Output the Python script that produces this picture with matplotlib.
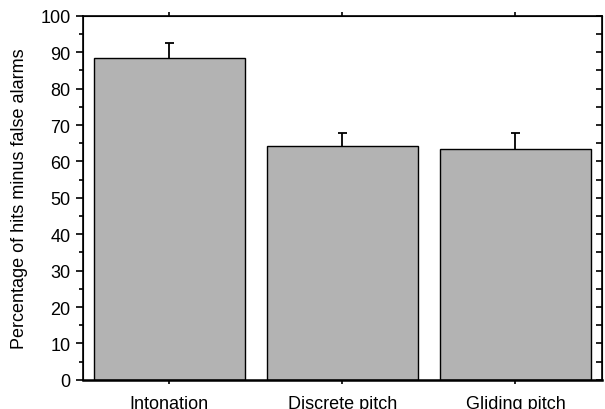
import matplotlib
matplotlib.use("Agg")
import matplotlib.pyplot as plt
import numpy as np
from matplotlib.ticker import MultipleLocator

# data
conditions = ["Intonation", "Discrete pitch", "Gliding pitch"]
scores = [88.4, 64.2, 63.4]
errors = [4.1, 3.7, 4.5]

BAR = "#b3b3b3"

plt.rcParams["font.family"] = ["Liberation Sans", "DejaVu Sans"]

fig = plt.figure(figsize=(6.05, 4.10), dpi=100)
ax = fig.add_axes([0.137, 0.071, 0.858, 0.888])

x = np.arange(len(conditions))
top = np.array(scores) + np.array(errors)
ax.bar(x, scores, width=0.87, color=BAR, edgecolor="black", linewidth=1.0, zorder=2)
# upper error bars only (stem + cap)
ax.vlines(x, scores, top, color="black", linewidth=1.3, zorder=3)
ax.hlines(top, x - 0.025, x + 0.025, color="black", linewidth=1.3, zorder=3)

ax.set_xlim(-0.5, 2.5)
ax.set_ylim(0, 100)
ax.set_xticks(x)
ax.set_xticklabels(conditions, fontsize=13)
ax.yaxis.set_major_locator(MultipleLocator(10))
ax.yaxis.set_minor_locator(MultipleLocator(5))
ax.tick_params(axis="y", which="major", direction="out", length=5, width=1.2,
               labelsize=13, pad=4)
ax.tick_params(axis="y", which="minor", direction="out", length=3, width=1.2)
ax.tick_params(axis="x", direction="out", length=3, width=1.2, top=True, pad=8)
ax.set_ylabel("Percentage of hits minus false alarms", fontsize=13, labelpad=9)

for side in ax.spines.values():
    side.set_linewidth(1.2)
ax.spines["bottom"].set_linewidth(1.8)

# right-hand axis: inward ticks every 5 units, no labels
ax2 = ax.twinx()
ax2.set_ylim(0, 100)
ax2.yaxis.set_major_locator(MultipleLocator(5))
ax2.tick_params(axis="y", direction="in", length=4, width=1.2, labelright=False)

fig.savefig("out.png", dpi=100)
